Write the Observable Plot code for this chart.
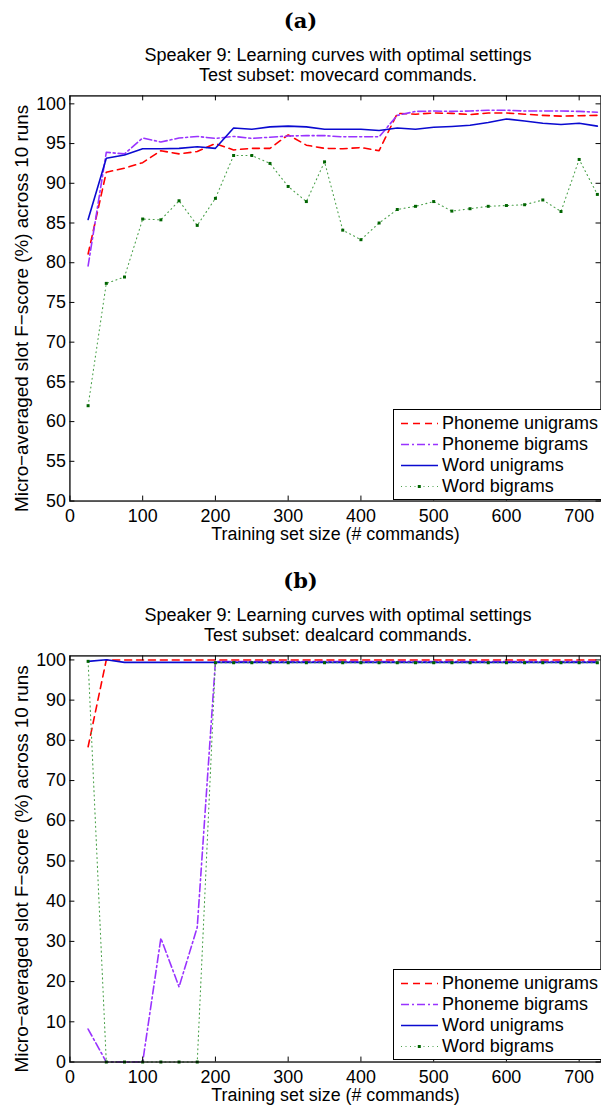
<!DOCTYPE html>
<html><head><meta charset="utf-8">
<script src="https://cdn.jsdelivr.net/npm/d3@7"></script>
<script src="https://cdn.jsdelivr.net/npm/@observablehq/plot@0.6"></script>
<style>
html,body{margin:0;padding:0;overflow:hidden;background:#fff;width:601px;height:1111px;}
#root{position:relative;width:601px;height:1111px;overflow:hidden;font-family:"Liberation Sans",Arial,sans-serif;color:#000;}
.svgwrap{position:absolute;left:0;}
.plabel{position:absolute;left:0;width:601px;text-align:center;font-family:"DejaVu Serif",serif;font-weight:bold;font-size:21px;line-height:26px;}
.title{position:absolute;left:70px;width:536px;text-align:center;font-size:18px;line-height:20px;white-space:nowrap;}
.legend{position:absolute;left:393px;width:215px;height:86px;border:1.3px solid #000;background:#fff;padding-top:3px;box-sizing:content-box;}
.lrow{height:21px;display:flex;align-items:center;font-size:18px;white-space:nowrap;}
.lrow svg{margin-left:7px;margin-right:4px;flex:none;}
</style>
</head><body><div id="root"></div>
<script>
// ---------- data ----------
const trainingSizes = [25,50,75,100,125,150,175,200,225,250,275,300,325,350,375,400,425,450,475,500,525,550,575,600,625,650,675,700,725];
const seriesNames = ["Phoneme unigrams","Phoneme bigrams","Word unigrams","Word bigrams"];

// (a) movecard commands
const movePhonemeUnigrams = [81.1,91.4,91.9,92.6,94.1,93.7,94.0,95.0,94.2,94.4,94.4,96.1,94.8,94.4,94.35,94.5,94.1,98.8,98.7,98.85,98.8,98.65,98.85,98.85,98.7,98.55,98.45,98.5,98.55];
const movePhonemeBigrams  = [79.6,93.9,93.7,95.7,95.2,95.7,95.9,95.65,95.9,95.65,95.8,95.95,96.0,96.0,95.85,95.85,95.85,98.55,99.05,99.1,99.05,99.1,99.2,99.2,99.1,99.1,99.1,99.05,98.95];
const moveWordUnigrams    = [85.45,93.15,93.55,94.35,94.35,94.4,94.6,94.4,96.95,96.8,97.1,97.2,97.1,96.8,96.8,96.8,96.65,96.95,96.8,97.05,97.15,97.3,97.65,98.1,97.85,97.55,97.4,97.55,97.2];
const moveWordBigrams     = [62.0,77.4,78.2,85.5,85.4,87.8,84.7,88.1,93.5,93.5,92.5,89.6,87.7,92.7,84.1,82.9,85.0,86.7,87.1,87.7,86.5,86.8,87.1,87.2,87.3,87.9,86.45,93.0,88.6];

// (b) dealcard commands
const dealPhonemeUnigrams = [78.4,100,100,100,100,100,100,100,100,100,100,100,100,100,100,100,100,100,100,100,100,100,100,100,100,100,100,100,100];
const dealPhonemeBigrams  = [8.2,0,0,0,30.8,18.7,33.5,99.6,99.6,99.6,99.6,99.6,99.6,99.6,99.6,99.6,99.6,99.6,99.6,99.6,99.6,99.6,99.6,99.6,99.6,99.6,99.6,99.6,99.6];
const dealWordUnigrams    = [99.65,100.05,99.4,99.4,99.4,99.4,99.4,99.4,99.4,99.4,99.4,99.4,99.4,99.4,99.4,99.4,99.4,99.4,99.4,99.4,99.4,99.4,99.4,99.4,99.4,99.4,99.4,99.4,99.4];
const dealWordBigrams     = [99.65,0,0,0,0,0,0,99.3,99.3,99.3,99.3,99.3,99.3,99.3,99.3,99.3,99.3,99.3,99.3,99.3,99.3,99.3,99.3,99.3,99.3,99.3,99.3,99.3,99.3];

const xTicks = [0,100,200,300,400,500,600,700];
const yTicksA = [50,55,60,65,70,75,80,85,90,95,100];
const yTicksB = [0,10,20,30,40,50,60,70,80,90,100];

const panelLabels = ["(a)","(b)"];
const titlesA = ["Speaker 9: Learning curves with optimal settings","Test subset: movecard commands."];
const titlesB = ["Speaker 9: Learning curves with optimal settings","Test subset: dealcard commands."];
const xLabel = "Training set size (# commands)";
const yLabel = "Micro\u2212averaged slot F\u2212score (%) across 10 runs";

// ---------- styles ----------
const styleMap = {
  "Phoneme unigrams": {stroke:"#ff0000", strokeWidth:1.6, strokeDasharray:"7,5"},
  "Phoneme bigrams":  {stroke:"#9933ff", strokeWidth:1.6, strokeDasharray:"8,3,2,3"},
  "Word unigrams":    {stroke:"#0a0ad0", strokeWidth:1.6, strokeDasharray:null},
  "Word bigrams":     {stroke:"#4aa04a", strokeWidth:1.1, strokeDasharray:"1,3.5"}
};
const markerFill = "#006400";
const FONT = '"Liberation Sans", Arial, sans-serif';

const root = document.getElementById("root");

function rowsFor(seriesArrays){
  return seriesNames.map((name,k)=>trainingSizes.map((x,i)=>({x, y: seriesArrays[k][i], s: name})));
}

function makePanel(opts){
  const {top, offsetY, height, marginTop, marginBottom, yDomain, yTicks, series, label, titles} = opts;
  const width = 606, marginLeft = 70, marginRight = 0.5;
  const innerH = height - marginTop - marginBottom;
  const innerW = width - marginLeft - marginRight;
  const data = rowsFor(series);
  const marks = [];
  data.forEach((rows,k)=>{
    const st = styleMap[seriesNames[k]];
    marks.push(Plot.line(rows,{x:"x",y:"y",stroke:st.stroke,strokeWidth:st.strokeWidth,strokeDasharray:st.strokeDasharray||undefined,strokeLinejoin:"round"}));
  });
  marks.push(Plot.dot(data[3],{x:"x",y:"y",symbol:"square",r:1.7,fill:markerFill,stroke:null}));
  marks.push(Plot.frame({stroke:"#000",strokeWidth:1.3}));
  marks.push(Plot.ruleX(xTicks,{x:d=>d,insetTop:innerH-5,stroke:"#000",strokeWidth:1}));
  marks.push(Plot.ruleX(xTicks,{x:d=>d,insetBottom:innerH-5,stroke:"#000",strokeWidth:1}));
  marks.push(Plot.ruleY(yTicks,{y:d=>d,insetRight:innerW-5,stroke:"#000",strokeWidth:1}));
  marks.push(Plot.ruleY(yTicks,{y:d=>d,insetLeft:innerW-5,stroke:"#000",strokeWidth:1}));
  marks.push(Plot.text(xTicks,{x:d=>d,frameAnchor:"bottom",dy:15,lineAnchor:"middle",textAnchor:"middle",text:d=>String(d),fontSize:18,fontFamily:FONT,fill:"#000"}));
  marks.push(Plot.text(yTicks,{y:d=>d,frameAnchor:"left",dx:-4,lineAnchor:"middle",textAnchor:"end",text:d=>String(d),fontSize:18,fontFamily:FONT,fill:"#000"}));
  marks.push(Plot.text([xLabel],{frameAnchor:"bottom",dy:34,lineAnchor:"middle",textAnchor:"middle",text:d=>d,fontSize:18,fontFamily:FONT,fill:"#000"}));
  marks.push(Plot.text([yLabel],{frameAnchor:"left",rotate:-90,dx:-48,dy:10,lineAnchor:"middle",textAnchor:"middle",text:d=>d,fontSize:19,fontFamily:FONT,fill:"#000"}));

  const svg = Plot.plot({
    width, height, marginLeft, marginRight, marginTop, marginBottom,
    x:{domain:[0,730],axis:null},
    y:{domain:yDomain,axis:null},
    style:{fontFamily:FONT,fontSize:"18px",background:"transparent",overflow:"visible",color:"#000"},
    marks
  });
  const wrap = document.createElement("div");
  wrap.className = "svgwrap";
  wrap.style.top = top + "px";
  wrap.appendChild(svg);
  root.appendChild(wrap);

  const pl = document.createElement("div");
  pl.className = "plabel";
  pl.style.top = (8 + offsetY) + "px";
  pl.textContent = label;
  root.appendChild(pl);

  const t = document.createElement("div");
  t.className = "title";
  t.style.top = (45 + offsetY) + "px";
  t.innerHTML = titles.map(s=>"<div>"+s+"</div>").join("");
  root.appendChild(t);

  const lg = document.createElement("div");
  lg.className = "legend";
  lg.style.top = (409 + offsetY) + "px";
  seriesNames.forEach(name=>{
    const st = styleMap[name];
    const row = document.createElement("div");
    row.className = "lrow";
    const dash = st.strokeDasharray ? ` stroke-dasharray="${st.strokeDasharray}"` : "";
    const marker = name === "Word bigrams" ? `<rect x="16.8" y="9" width="3" height="3" fill="${markerFill}"/>` : "";
    row.innerHTML = `<svg width="37" height="21"><line x1="0" y1="10.5" x2="37" y2="10.5" stroke="${st.stroke}" stroke-width="${st.strokeWidth}"${dash}/>${marker}</svg><span>${name}</span>`;
    lg.appendChild(row);
  });
  root.appendChild(lg);
}

makePanel({top:85, offsetY:0, height:480, marginTop:10.5, marginBottom:61, yDomain:[50,101], yTicks:yTicksA,
  series:[movePhonemeUnigrams,movePhonemeBigrams,moveWordUnigrams,moveWordBigrams], label:panelLabels[0], titles:titlesA});
makePanel({top:645, offsetY:560, height:466, marginTop:10.5, marginBottom:46, yDomain:[0,101], yTicks:yTicksB,
  series:[dealPhonemeUnigrams,dealPhonemeBigrams,dealWordUnigrams,dealWordBigrams], label:panelLabels[1], titles:titlesB});
</script>
</body></html>
